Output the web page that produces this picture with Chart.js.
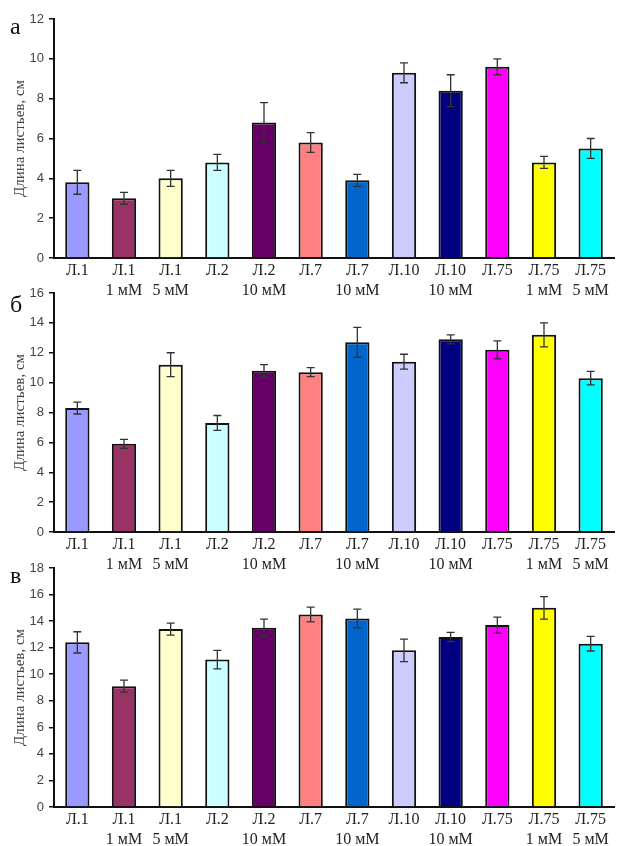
<!DOCTYPE html>
<html>
<head>
<meta charset="utf-8">
<script src="https://cdn.jsdelivr.net/npm/chart.js@4/dist/chart.umd.min.js"></script>
<style>
  html, body { margin: 0; padding: 0; background: #fff; overflow: hidden; }
  body { width: 619px; height: 846px; position: relative; }
  .panel { position: absolute; left: 0; width: 619px; height: 310px; }
</style>
</head>
<body>
<div class="panel" style="top:0px"><canvas id="chartA"></canvas></div>
<div class="panel" style="top:274px"><canvas id="chartB"></canvas></div>
<div class="panel" style="top:549px"><canvas id="chartC"></canvas></div>

<script>
// categories (two-line tick labels)
const categories = [
  ["Л.1"], ["Л.1", "1 мМ"], ["Л.1", "5 мМ"], ["Л.2"], ["Л.2", "10 мМ"], ["Л.7"],
  ["Л.7", "10 мМ"], ["Л.10"], ["Л.10", "10 мМ"], ["Л.75"], ["Л.75", "1 мМ"], ["Л.75", "5 мМ"]
];

const barColors = [
  "#9999FF", "#993366", "#FFFFCC", "#CCFFFF", "#660066", "#FF8080",
  "#0066CC", "#CCCCFF", "#000080", "#FF00FF", "#FFFF00", "#00FFFF"
];

// panel а
const lengthA = [3.8, 3.0, 4.0, 4.8, 6.8, 5.8, 3.9, 9.3, 8.4, 9.6, 4.8, 5.5];
const errorA  = [0.6, 0.3, 0.4, 0.4, 1.0, 0.5, 0.3, 0.5, 0.8, 0.4, 0.3, 0.5];
// panel б
const lengthB = [8.3, 5.9, 11.2, 7.3, 10.8, 10.7, 12.7, 11.4, 12.9, 12.2, 13.2, 10.3];
const errorB  = [0.4, 0.3, 0.8, 0.5, 0.4, 0.3, 1.0, 0.5, 0.3, 0.6, 0.8, 0.45];
// panel в
const lengthC = [12.4, 9.1, 13.4, 11.1, 13.5, 14.5, 14.2, 11.8, 12.8, 13.7, 15.0, 12.3];
const errorC  = [0.8, 0.45, 0.45, 0.7, 0.65, 0.55, 0.7, 0.85, 0.35, 0.6, 0.85, 0.55];

const yTitle = "Длина листьев, см";

const errorBars = {
  id: "errorBars",
  afterDatasetsDraw(chart, args, opts) {
    const meta = chart.getDatasetMeta(0);
    const yScale = chart.scales.y;
    const values = chart.data.datasets[0].data;
    const ctx = chart.ctx;
    ctx.save();
    ctx.strokeStyle = "#333";
    ctx.lineWidth = 1.3;
    meta.data.forEach((bar, i) => {
      const err = opts.errors[i];
      const top = yScale.getPixelForValue(values[i] + err);
      const bottom = yScale.getPixelForValue(values[i] - err);
      const cap = 4;
      ctx.beginPath();
      ctx.moveTo(bar.x, top);
      ctx.lineTo(bar.x, bottom);
      ctx.moveTo(bar.x - cap, top);
      ctx.lineTo(bar.x + cap, top);
      ctx.moveTo(bar.x - cap, bottom);
      ctx.lineTo(bar.x + cap, bottom);
      ctx.stroke();
    });
    ctx.restore();
  }
};

const panelLetter = {
  id: "panelLetter",
  afterDraw(chart, args, opts) {
    const ctx = chart.ctx;
    ctx.save();
    ctx.fillStyle = "#111";
    ctx.font = "24px 'Liberation Serif'";
    ctx.textBaseline = "alphabetic";
    ctx.fillText(opts.text, 10, opts.baseline);
    ctx.restore();
  }
};

function makePanel(canvasId, letter, baseline, values, errors, yMax) {
  return new Chart(document.getElementById(canvasId), {
    type: "bar",
    data: {
      labels: categories,
      datasets: [{
        data: values,
        backgroundColor: barColors,
        borderColor: "#111",
        borderWidth: 2,
        barPercentage: 0.52,
        categoryPercentage: 1
      }]
    },
    options: {
      responsive: true,
      maintainAspectRatio: false,
      animation: false,
      layout: { padding: { top: 19, right: 5, bottom: 0, left: 0 } },
      plugins: {
        legend: { display: false },
        tooltip: { enabled: false },
        errorBars: { errors: errors },
        panelLetter: { text: letter, baseline: baseline }
      },
      scales: {
        x: {
          afterFit: (s) => { s.height = 52; },
          grid: { display: false, drawTicks: false },
          border: { display: true, color: "#111", width: 2 },
          ticks: {
            color: "#222",
            padding: 2,
            maxRotation: 0,
            autoSkip: false,
            font: { family: "'Liberation Serif'", size: 16, lineHeight: 1.3 }
          }
        },
        y: {
          min: 0,
          max: yMax,
          afterFit: (s) => { s.width = 54; },
          grid: { drawOnChartArea: false, drawTicks: true, tickLength: 5, color: "#111", lineWidth: 1.5 },
          border: { display: true, color: "#111", width: 2 },
          ticks: {
            stepSize: 2,
            color: "#444",
            padding: 5,
            font: { family: "'Liberation Sans'", size: 13 }
          },
          title: {
            display: true,
            text: yTitle,
            color: "#444",
            padding: { top: 11, bottom: 0 },
            font: { family: "'Liberation Serif'", size: 15 }
          }
        }
      }
    },
    plugins: [errorBars, panelLetter]
  });
}

makePanel("chartA", "а", 34, lengthA, errorA, 12);
makePanel("chartB", "б", 38, lengthB, errorB, 16);
makePanel("chartC", "в", 34, lengthC, errorC, 18);
</script>
</body>
</html>
